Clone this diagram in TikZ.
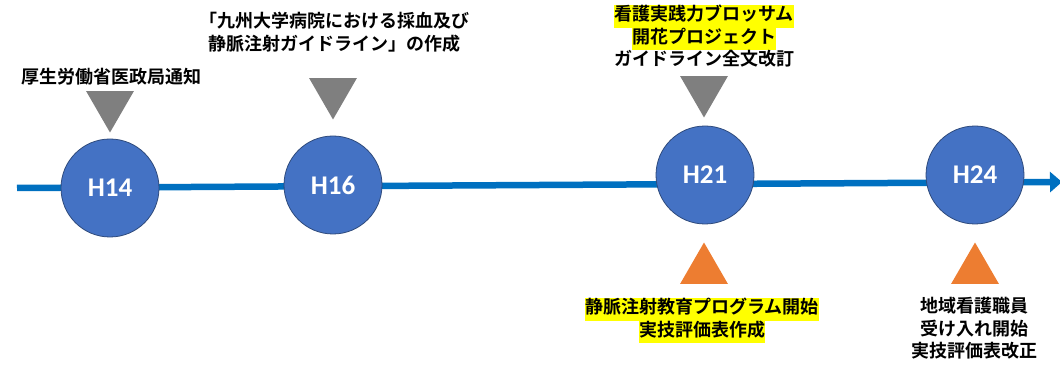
\documentclass[tikz,border=0pt]{standalone}
\usepackage{fontspec}
\newfontfamily\jpfont{Noto Sans CJK JP}[BoldFont={Noto Sans CJK JP Bold}]
\newfontfamily\yearfont{Carlito}
\usetikzlibrary{shapes.geometric,arrows.meta}
\definecolor{lineblue}{HTML}{0070C0}
\definecolor{circblue}{HTML}{4472C4}
\definecolor{circedge}{HTML}{2F4B7C}
\definecolor{markgray}{HTML}{7F7F7F}
\definecolor{markorange}{HTML}{ED7D31}
\definecolor{hlyellow}{HTML}{FFFF00}
\newcommand{\hl}[1]{{\setlength{\fboxsep}{0pt}\colorbox{hlyellow}{\strut#1}}}

\tikzset{
  year/.style={circle,fill=circblue,draw=circedge,line width=0.8pt,minimum size=98pt,inner sep=0pt,text=white,font=\yearfont\bfseries\fontsize{27}{27}\selectfont},
  graymark/.style={regular polygon,regular polygon sides=3,shape border rotate=180,fill=markgray,minimum size=55pt,inner sep=0pt},
  orangemark/.style={regular polygon,regular polygon sides=3,fill=markorange,minimum size=55pt,inner sep=0pt},
  note/.style={align=center,inner sep=0pt,font=\jpfont\bfseries\fontsize{18}{22.5}\selectfont}
}

\begin{document}
\begin{tikzpicture}[x=1pt,y=-1pt]
\useasboundingbox (0,0) rectangle (1060,366);
%\draw[help lines] (0,0) grid[step=50] (1060,366);
\coordinate (start) at (17,188);
\coordinate (end) at (1062,182);
\draw[lineblue,line width=6.5pt,-{Triangle[length=12pt,width=20pt]}] (start) -- (end);

\foreach \n/\x/\y in {14/110/188, 16/333/185, 21/705/175, 24/975/175}
  \node[year] (h\n) at (\x,\y) {H\n};

\foreach \n/\x/\y in {14/110/105, 16/333/92, 21/704/90}
  \node[graymark] (g\n) at (\x,\y) {};
\foreach \n/\x/\y in {21/704/270, 24/975/270}
  \node[orangemark] (o\n) at (\x,\y) {};

\node[note] (n14) at (111,76.5) {厚生労働省医政局通知};
\node[note,anchor=north] (n16) at (334,12) {「九州大学病院における採血及び\\静脈注射ガイドライン」の作成};
\node[note,anchor=north] (n21a) at (704,5) {\hl{看護実践力ブロッサム}\\\hl{開花プロジェクト}\\ガイドライン全文改訂};
\node[note,anchor=north] (n21b) at (702,298) {\hl{静脈注射教育プログラム開始}\\\hl{実技評価表作成}};
\node[note,anchor=north] (n24) at (974,297) {地域看護職員\\受け入れ開始\\実技評価表改正};
\end{tikzpicture}
\end{document}
